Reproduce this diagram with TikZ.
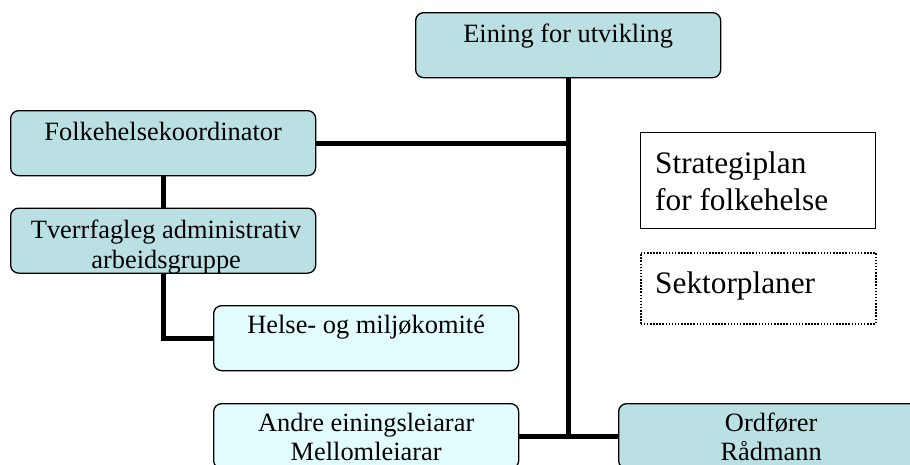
\documentclass[tikz,border=0pt]{standalone}
\usepackage{fontspec}
\setmainfont{Liberation Serif}
\usetikzlibrary{calc}
\definecolor{darkfill}{RGB}{186,224,227}
\definecolor{lightfill}{RGB}{226,252,254}
\begin{document}
\begin{tikzpicture}[x=1pt,y=-1pt,
  orgbox/.style={draw=black, line width=1.3pt, rounded corners=8pt, minimum width=305pt, minimum height=65pt, anchor=north west, inner sep=0pt},
  darkbox/.style={orgbox, fill=darkfill},
  lightbox/.style={orgbox, fill=lightfill},
  plainbox/.style={draw=black, line width=1.2pt, minimum width=235pt, anchor=north west, inner sep=0pt},
  dotbox/.style={draw=black, line width=1.5pt, dash pattern=on 1.5pt off 1.6pt, minimum width=235pt, anchor=north west, inner sep=0pt},
  boxtext/.style={anchor=base, inner sep=0pt, font=\fontsize{26.4}{30}\selectfont},
  lowtext/.style={anchor=base, inner sep=0pt, font=\fontsize{26.4}{29}\selectfont},
  bigtext/.style={anchor=base west, inner sep=0pt, font=\fontsize{31.3}{37}\selectfont},
  conn/.style={line width=5pt}
]
\clip (0,0) rectangle (910,464);
\fill[white] (0,0) rectangle (910,464);

% boxes
\node[darkbox] (ein) at (415,12) {};
\node[darkbox] (folk) at (10,110) {};
\node[darkbox] (tverr) at (10,207.5) {};
\node[lightbox] (helse) at (213,305) {};
\node[lightbox] (andre) at (213,403) {};
\node[darkbox] (ord) at (618,403) {};
\node[plainbox, minimum height=96pt] (strat) at (640,132) {};
\node[dotbox, minimum height=71pt] (sekt) at (640,252) {};

% connectors
\draw[conn] (ein.south) -- (ein.south |- andre.east);
\draw[conn] (folk.east) -- (folk.east -| ein.south);
\draw[conn] (andre.east) -- (ord.west);
\draw[conn] (folk.south) -- (tverr.north);
\draw[conn] (tverr.south) |- (helse.west);

% texts
\node[boxtext] (ein-t) at ($(ein.north)+(0,30)$) {Eining for utvikling};
\node[boxtext] (folk-t) at ($(folk.north)+(0,30)$) {Folkehelsekoordinator};
\node[boxtext] (tverr-t) at ($(tverr.north)+(3,30.5)$) {\parbox[t]{300pt}{\centering Tverrfagleg administrativ\\arbeidsgruppe}};
\node[boxtext] (helse-t) at ($(helse.north)+(0,28)$) {Helse- og miljøkomité};
\node[lowtext] (andre-t) at ($(andre.north)+(0,28)$) {\parbox[t]{300pt}{\centering Andre einingsleiarar\\Mellomleiarar}};
\node[lowtext] (ord-t) at ($(ord.north)+(0,28)$) {\parbox[t]{300pt}{\centering Ordfører\\Rådmann}};
\node[bigtext] (strat-t) at ($(strat.north west)+(15,41)$) {\parbox[t]{220pt}{Strategiplan\\for folkehelse}};
\node[bigtext] (sekt-t) at ($(sekt.north west)+(15,41)$) {Sektorplaner};
\end{tikzpicture}
\end{document}
